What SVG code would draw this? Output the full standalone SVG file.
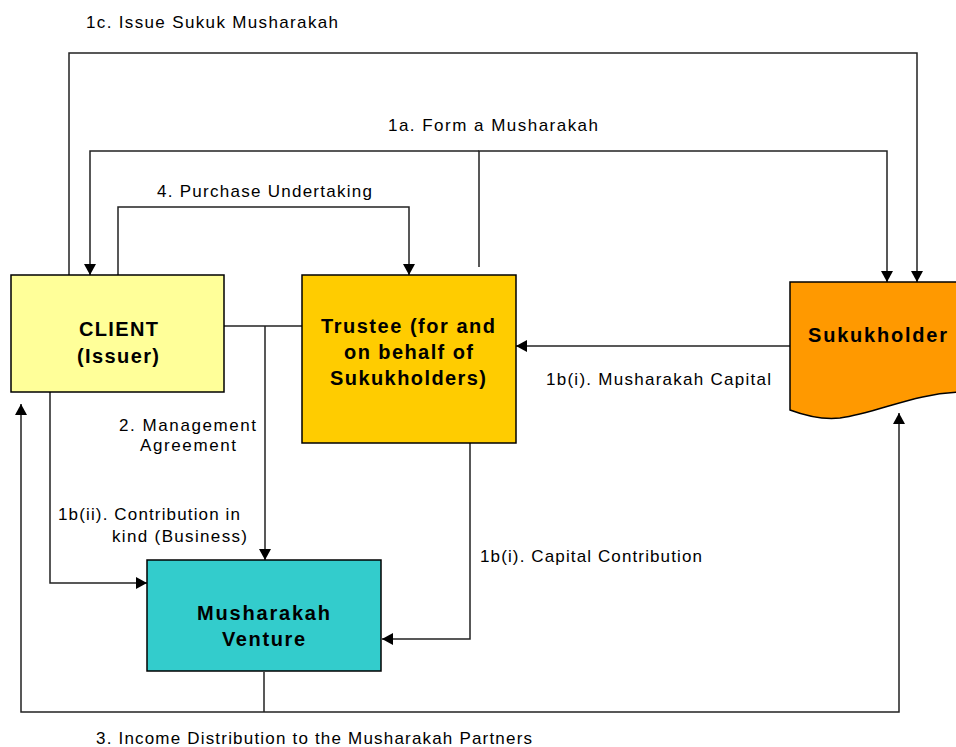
<svg xmlns="http://www.w3.org/2000/svg" width="956" height="747" viewBox="0 0 956 747">
<style>
.box{stroke:#000;stroke-width:1.5}
.node{font-family:"Liberation Sans",Arial,sans-serif;font-weight:bold;font-size:20px;fill:#000}
.lbl{font-family:"Liberation Sans",Arial,sans-serif;font-size:17px;fill:#000}
.c{fill:none;stroke:#222;stroke-width:1.5}
.a{marker-end:url(#arr)}
</style>
<defs>
<marker id="arr" markerUnits="userSpaceOnUse" markerWidth="12" markerHeight="12" refX="11" refY="6" orient="auto">
<path d="M0,0 L11,6 L0,12 z" fill="#000"/>
</marker>
</defs>
<rect width="956" height="747" fill="#fff"/>
<g id="connectors">
<path class="c a" d="M69,275 V53 H917 V282"/>
<path class="c a" d="M479,151 H90 V275"/>
<path class="c a" d="M479,267 V151 H887 V282"/>
<path class="c a" d="M118,275 V207 H409 V275"/>
<path class="c" d="M224,326 H302"/>
<path class="c a" d="M265,326 V560"/>
<path class="c a" d="M790,346 H516"/>
<path class="c a" d="M50,392 V583 H147"/>
<path class="c a" d="M470,443 V639 H382"/>
<path class="c" d="M264,672 V712"/>
<path class="c a" d="M264,712 H21 V404"/>
<path class="c a" d="M264,712 H899 V413"/>
</g>
<g id="labels">
<text class="lbl" x="86" y="28" textLength="252" lengthAdjust="spacing">1c. Issue Sukuk Musharakah</text>
<text class="lbl" x="388" y="131" textLength="210" lengthAdjust="spacing">1a. Form a Musharakah</text>
<text class="lbl" x="157" y="197" textLength="215" lengthAdjust="spacing">4. Purchase Undertaking</text>
<text class="lbl" x="546" y="385" textLength="225" lengthAdjust="spacing">1b(i). Musharakah Capital</text>
<text class="lbl" x="119" y="431" textLength="137" lengthAdjust="spacing">2. Management</text>
<text class="lbl" x="140" y="451" textLength="96" lengthAdjust="spacing">Agreement</text>
<text class="lbl" x="58" y="520" textLength="182" lengthAdjust="spacing">1b(ii). Contribution in</text>
<text class="lbl" x="112" y="542" textLength="135" lengthAdjust="spacing">kind (Business)</text>
<text class="lbl" x="480" y="562" textLength="222" lengthAdjust="spacing">1b(i). Capital Contribution</text>
<text class="lbl" x="96" y="744" textLength="436" lengthAdjust="spacing">3. Income Distribution to the Musharakah Partners</text>
</g>
<g id="client">
<rect class="box" x="11" y="275" width="213" height="117" fill="#FFFF99"/>
<text class="node" x="79" y="336" textLength="79" lengthAdjust="spacing">CLIENT</text>
<text class="node" x="77" y="363" textLength="82" lengthAdjust="spacing">(Issuer)</text>
</g>
<g id="trustee">
<rect class="box" x="302" y="275" width="214" height="168" fill="#FFCC00"/>
<text class="node" x="321" y="333" textLength="174" lengthAdjust="spacing">Trustee (for and</text>
<text class="node" x="344" y="359" textLength="129" lengthAdjust="spacing">on behalf of</text>
<text class="node" x="330" y="385" textLength="156" lengthAdjust="spacing">Sukukholders)</text>
</g>
<g id="sukukholder">
<path class="box" d="M790,282 H962 V392 C915,393 880,412 840,418 C822,420 806,416 790,410 Z" fill="#FF9900"/>
<text class="node" x="808" y="342" textLength="139" lengthAdjust="spacing">Sukukholder</text>
</g>
<g id="venture">
<rect class="box" x="147" y="560" width="234" height="111" fill="#33CCCC"/>
<text class="node" x="197" y="620" textLength="133" lengthAdjust="spacing">Musharakah</text>
<text class="node" x="222" y="646" textLength="83" lengthAdjust="spacing">Venture</text>
</g>
</svg>
